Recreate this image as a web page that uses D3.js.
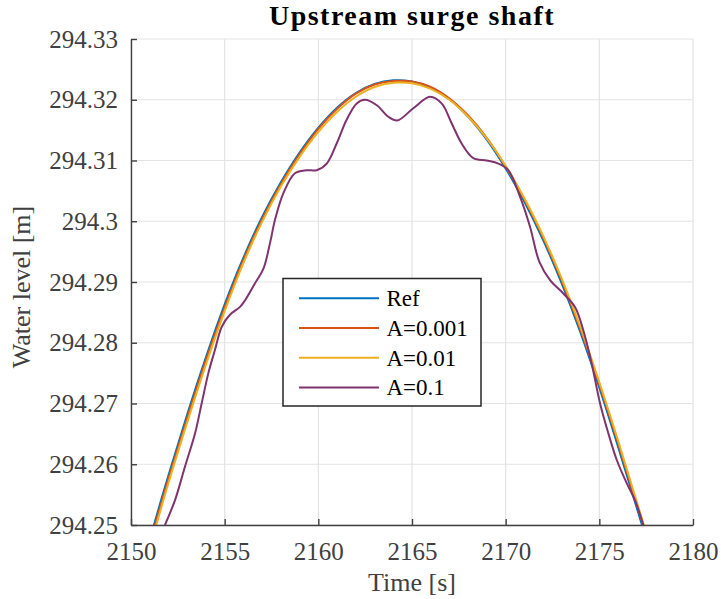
<!DOCTYPE html>
<html>
<head>
<meta charset="utf-8" />
<title>Upstream surge shaft</title>
<script src="https://cdn.jsdelivr.net/npm/d3@7/dist/d3.min.js"></script>
<style>
    html, body { margin: 0; padding: 0; background: #fff; }
    svg text { font-family: "Liberation Serif", "Times New Roman", serif; }
</style>
</head>
<body>
<script>

// data
var xTicks = [2150, 2155, 2160, 2165, 2170, 2175, 2180];
var yTicks = [294.25, 294.26, 294.27, 294.28, 294.29, 294.30, 294.31, 294.32, 294.33];
var yTickLabels = ['294.25', '294.26', '294.27', '294.28', '294.29', '294.3', '294.31', '294.32', '294.33'];

var seriesNames = ['Ref', 'A=0.001', 'A=0.01', 'A=0.1'];

// Ref, A=0.001 and A=0.01 sampled every second
var time = [2151, 2152, 2153, 2154, 2155, 2156, 2157, 2158, 2159, 2160, 2161, 2162, 2163, 2164, 2165, 2166, 2167, 2168, 2169, 2170, 2171, 2172, 2173, 2174, 2175, 2176, 2177, 2178];
var refLevel  = [294.2476, 294.2582, 294.2682, 294.2776, 294.2863, 294.2940, 294.3007, 294.3064, 294.3113, 294.3154, 294.3187, 294.3211, 294.3226, 294.3232, 294.3230, 294.3220, 294.3201, 294.3172, 294.3134, 294.3087, 294.3032, 294.2969, 294.2897, 294.2816, 294.2726, 294.2629, 294.2528, 294.2427];
var a001Level = [294.2470, 294.2576, 294.2676, 294.2771, 294.2858, 294.2936, 294.3003, 294.3061, 294.3110, 294.3152, 294.3185, 294.3210, 294.3225, 294.3231, 294.3230, 294.3221, 294.3202, 294.3174, 294.3137, 294.3090, 294.3036, 294.2973, 294.2902, 294.2821, 294.2732, 294.2635, 294.2534, 294.2433];
var a01Level  = [294.2462, 294.2569, 294.2669, 294.2764, 294.2852, 294.2931, 294.2999, 294.3057, 294.3106, 294.3147, 294.3180, 294.3205, 294.3221, 294.3228, 294.3227, 294.3218, 294.3200, 294.3172, 294.3136, 294.3091, 294.3038, 294.2976, 294.2905, 294.2825, 294.2735, 294.2639, 294.2538, 294.2437];

// A=0.1 traced point by point
var a1Time  = [2151.81, 2152.35, 2152.88, 2153.42, 2153.77, 2154.13, 2154.48, 2154.84, 2155.28, 2155.82, 2156.09, 2156.62, 2157.07, 2157.42, 2157.70, 2158.13, 2158.75, 2159.38, 2159.91, 2160.45, 2160.98, 2161.51, 2162.05, 2162.49, 2163.12, 2163.74, 2164.22, 2165.07, 2165.96, 2166.58, 2167.12, 2167.65, 2168.27, 2168.99, 2169.61, 2170.14, 2170.77, 2171.30, 2171.80, 2172.37, 2173.08, 2173.70, 2174.14, 2174.59, 2175.04, 2175.48, 2175.93, 2176.46, 2176.90, 2177.35];
var a1Level = [294.2500, 294.2541, 294.2596, 294.2651, 294.2700, 294.2750, 294.2788, 294.2826, 294.2846, 294.2859, 294.2870, 294.2898, 294.2922, 294.2964, 294.3004, 294.3046, 294.3079, 294.3084, 294.3084, 294.3095, 294.3128, 294.3167, 294.3194, 294.3200, 294.3191, 294.3172, 294.3166, 294.3186, 294.3205, 294.3194, 294.3161, 294.3128, 294.3104, 294.3100, 294.3095, 294.3084, 294.3040, 294.2991, 294.2933, 294.2903, 294.2881, 294.2859, 294.2821, 294.2766, 294.2700, 294.2651, 294.2607, 294.2569, 294.2541, 294.2500];

var colors = ['#0072BD', '#D95319', '#EDB120', '#7F346F'];

var width = 721, height = 599;
var plotLeft = 131, plotRight = 693, plotTop = 39, plotBottom = 525;

var svg = d3.select('body').append('svg').attr('width', width).attr('height', height);

var x = d3.scaleLinear().domain([2150, 2180]).range([plotLeft, plotRight]);
var y = d3.scaleLinear().domain([294.25, 294.33]).range([plotBottom, plotTop]);

// grid
var grid = svg.append('g').attr('stroke', '#e3e3e3').attr('stroke-width', 1.2);
grid.selectAll('.gx').data(xTicks).enter().append('line')
    .attr('x1', d => x(d)).attr('x2', d => x(d)).attr('y1', plotTop).attr('y2', plotBottom);
grid.selectAll('.gy').data(yTicks).enter().append('line')
    .attr('y1', d => y(d)).attr('y2', d => y(d)).attr('x1', plotLeft).attr('x2', plotRight);

// lines
svg.append('clipPath').attr('id', 'clip').append('rect')
    .attr('x', plotLeft).attr('y', plotTop).attr('width', plotRight - plotLeft).attr('height', plotBottom - plotTop);

var series = [
    time.map((t, i) => [t, refLevel[i]]),
    time.map((t, i) => [t, a001Level[i]]),
    time.map((t, i) => [t, a01Level[i]]),
    a1Time.map((t, i) => [t, a1Level[i]])
];

var line = d3.line().x(d => x(d[0])).y(d => y(d[1])).curve(d3.curveCatmullRom.alpha(0.5));

svg.append('g').attr('clip-path', 'url(#clip)')
    .selectAll('path').data(series).enter().append('path')
    .attr('d', line)
    .attr('fill', 'none')
    .attr('stroke', (d, i) => colors[i])
    .attr('stroke-width', 2);

// axes
var xAxis = svg.append('g').attr('transform', 'translate(0,' + plotBottom + ')')
    .call(d3.axisBottom(x).tickValues(xTicks).tickFormat(d3.format('d')).tickSizeInner(-6).tickSizeOuter(0).tickPadding(17));
var yAxis = svg.append('g').attr('transform', 'translate(' + plotLeft + ',0)')
    .call(d3.axisLeft(y).tickValues(yTicks).tickFormat((d, i) => yTickLabels[i]).tickSizeInner(-6).tickSizeOuter(0).tickPadding(13));

[xAxis, yAxis].forEach(function(a) {
    a.select('.domain').attr('stroke', '#404040').attr('stroke-width', 1.4);
    a.selectAll('.tick line').attr('stroke', '#404040').attr('stroke-width', 1.4);
    a.selectAll('.tick text').attr('fill', '#404040')
        .style('font-family', '"Liberation Serif", serif').style('font-size', '25px');
});

// labels
svg.append('text').attr('x', (plotLeft + plotRight) / 2).attr('y', 25)
    .attr('text-anchor', 'middle').attr('fill', '#000')
    .style('font-size', '28px').style('font-weight', 'bold').style('letter-spacing', '1.5px')
    .text('Upstream surge shaft');

svg.append('text').attr('x', (plotLeft + plotRight) / 2).attr('y', 591)
    .attr('text-anchor', 'middle').attr('fill', '#404040')
    .style('font-size', '26px')
    .text('Time [s]');

svg.append('text').attr('transform', 'translate(30,' + ((plotTop + plotBottom) / 2 + 5) + ') rotate(-90)')
    .attr('text-anchor', 'middle').attr('fill', '#404040')
    .style('font-size', '26px')
    .text('Water level [m]');

// legend
var legend = svg.append('g');
legend.append('rect').attr('x', 283).attr('y', 278.5).attr('width', 198).attr('height', 127.5)
    .attr('fill', '#fff').attr('stroke', '#262626').attr('stroke-width', 1.5);
var item = legend.selectAll('.item').data(seriesNames).enter().append('g')
    .attr('transform', (d, i) => 'translate(0,' + (298.3 + i * 29.7) + ')');
item.append('line').attr('x1', 299).attr('x2', 379).attr('y1', 0).attr('y2', 0)
    .attr('stroke', (d, i) => colors[i]).attr('stroke-width', 2);
item.append('text').attr('x', 386.5).attr('y', 8).attr('fill', '#000')
    .style('font-size', '23px').text(d => d);

</script>
</body>
</html>
